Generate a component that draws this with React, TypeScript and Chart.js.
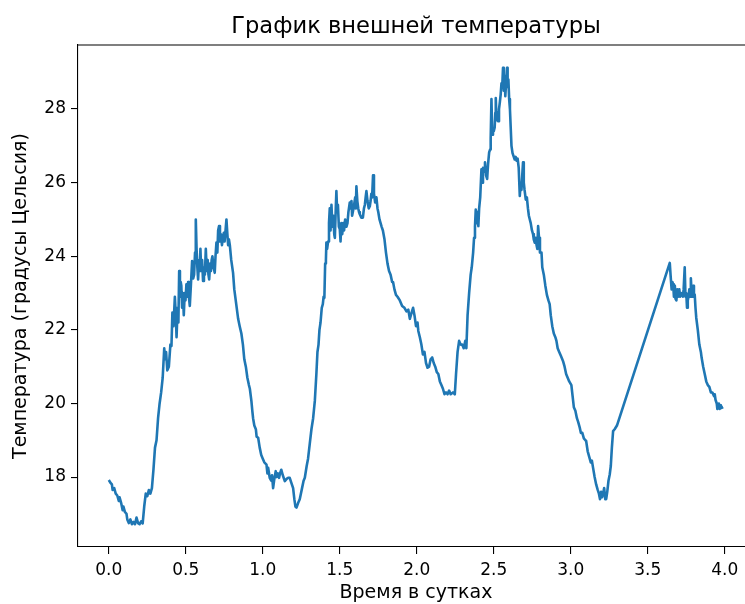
import { useEffect, useRef } from "react";
import { Chart, registerables } from "chart.js";

Chart.register(...registerables);

const chartTitle = "График внешней температуры";
const xAxisTitle = "Время в сутках";
const yAxisTitle = "Температура (градусы Цельсия)";

const xTickValues = [0, 0.5, 1, 1.5, 2, 2.5, 3, 3.5, 4];
const yTickValues = [18, 20, 22, 24, 26, 28];

const dayTimes = [
  0.000, 0.010, 0.020, 0.025, 0.035, 0.045, 0.055, 0.065, 0.070, 0.080,
  0.090, 0.095, 0.105, 0.115, 0.120, 0.130, 0.140, 0.150, 0.160, 0.170,
  0.180, 0.190, 0.200, 0.210, 0.220, 0.230, 0.240, 0.250, 0.260, 0.270,
  0.280, 0.290, 0.300, 0.310, 0.320, 0.330, 0.340, 0.350, 0.360, 0.365,
  0.372, 0.380, 0.390, 0.400, 0.407, 0.413, 0.420, 0.429, 0.435, 0.440,
  0.447, 0.452, 0.457, 0.462, 0.467, 0.471, 0.476, 0.481, 0.487, 0.493,
  0.498, 0.504, 0.510, 0.515, 0.520, 0.526, 0.533, 0.541, 0.548, 0.554,
  0.560, 0.565, 0.570, 0.575, 0.580, 0.586, 0.590, 0.595, 0.600, 0.606,
  0.612, 0.618, 0.624, 0.630, 0.636, 0.642, 0.647, 0.652, 0.658, 0.663,
  0.668, 0.673, 0.680, 0.688, 0.693, 0.699, 0.705, 0.710, 0.716, 0.722,
  0.728, 0.735, 0.740, 0.747, 0.752, 0.758, 0.764, 0.770, 0.775, 0.780,
  0.786, 0.795, 0.807, 0.815, 0.829, 0.840, 0.850, 0.861, 0.871, 0.880,
  0.890, 0.900, 0.910, 0.916, 0.926, 0.932, 0.937, 0.945, 0.955, 0.960,
  0.970, 0.980, 0.990, 1.000, 1.010, 1.024, 1.030, 1.035, 1.045, 1.055,
  1.060, 1.067, 1.075, 1.084, 1.090, 1.098, 1.106, 1.112, 1.120, 1.130,
  1.143, 1.155, 1.165, 1.175, 1.185, 1.197, 1.205, 1.212, 1.219, 1.230,
  1.240, 1.255, 1.265, 1.273, 1.285, 1.294, 1.305, 1.316, 1.327, 1.338,
  1.348, 1.355, 1.362, 1.368, 1.375, 1.383, 1.390, 1.395, 1.400, 1.405,
  1.410, 1.413, 1.418, 1.424, 1.430, 1.435, 1.440, 1.446, 1.452, 1.458,
  1.464, 1.468, 1.474, 1.478, 1.483, 1.488, 1.494, 1.500, 1.505, 1.510,
  1.516, 1.522, 1.528, 1.535, 1.543, 1.550, 1.556, 1.565, 1.572, 1.576,
  1.580, 1.586, 1.593, 1.600, 1.604, 1.608, 1.614, 1.620, 1.625, 1.630,
  1.640, 1.650, 1.657, 1.663, 1.668, 1.673, 1.680, 1.688, 1.695, 1.700,
  1.705, 1.710, 1.716, 1.722, 1.730, 1.738, 1.745, 1.750, 1.758, 1.765,
  1.772, 1.780, 1.790, 1.800, 1.810, 1.820, 1.830, 1.840, 1.846, 1.855,
  1.865, 1.875, 1.890, 1.905, 1.920, 1.933, 1.945, 1.955, 1.965, 1.976,
  1.985, 1.995, 2.005, 2.010, 2.020, 2.030, 2.040, 2.050, 2.060, 2.070,
  2.080, 2.090, 2.100, 2.110, 2.120, 2.130, 2.140, 2.150, 2.160, 2.170,
  2.180, 2.190, 2.200, 2.210, 2.220, 2.235, 2.247, 2.255, 2.265, 2.275,
  2.285, 2.295, 2.305, 2.315, 2.322, 2.330, 2.340, 2.350, 2.357, 2.366,
  2.372, 2.378, 2.383, 2.390, 2.395, 2.400, 2.405, 2.412, 2.420, 2.425,
  2.430, 2.437, 2.443, 2.450, 2.457, 2.463, 2.470, 2.476, 2.480, 2.485,
  2.490, 2.495, 2.500, 2.506, 2.510, 2.513, 2.518, 2.524, 2.528, 2.534,
  2.540, 2.545, 2.550, 2.555, 2.560, 2.565, 2.570, 2.575, 2.580, 2.586,
  2.590, 2.595, 2.600, 2.605, 2.610, 2.615, 2.622, 2.630, 2.636, 2.642,
  2.648, 2.655, 2.662, 2.669, 2.675, 2.680, 2.685, 2.690, 2.695, 2.700,
  2.708, 2.715, 2.722, 2.728, 2.734, 2.740, 2.748, 2.755, 2.760, 2.766,
  2.772, 2.778, 2.783, 2.788, 2.794, 2.800, 2.810, 2.815, 2.825, 2.835,
  2.845, 2.855, 2.863, 2.870, 2.880, 2.890, 2.900, 2.907, 2.915, 2.925,
  2.935, 2.945, 2.950, 2.960, 2.970, 2.980, 2.990, 3.004, 3.012, 3.020,
  3.030, 3.040, 3.048, 3.058, 3.066, 3.075, 3.085, 3.095, 3.100, 3.110,
  3.120, 3.130, 3.137, 3.145, 3.155, 3.165, 3.175, 3.183, 3.190, 3.197,
  3.203, 3.210, 3.217, 3.224, 3.230, 3.237, 3.245, 3.253, 3.260, 3.267,
  3.275, 3.285, 3.300, 3.643, 3.648, 3.655, 3.660, 3.665, 3.670, 3.676,
  3.680, 3.686, 3.692, 3.697, 3.705, 3.710, 3.716, 3.722, 3.728, 3.733,
  3.740, 3.745, 3.750, 3.755, 3.760, 3.765, 3.770, 3.775, 3.780, 3.785,
  3.790, 3.795, 3.800, 3.805, 3.810, 3.815, 3.825, 3.835, 3.845, 3.850,
  3.860, 3.870, 3.880, 3.890, 3.900, 3.910, 3.920, 3.930, 3.935, 3.940,
  3.948, 3.952, 3.957, 3.962, 3.968, 3.975, 3.980, 3.990,
];

const temperatures = [
  17.92, 17.85, 17.80, 17.65, 17.70, 17.55, 17.50, 17.35, 17.45, 17.30,
  17.10, 17.20, 17.05, 17.00, 16.85, 16.75, 16.85, 16.72, 16.78, 16.72,
  16.90, 16.75, 16.72, 16.80, 16.74, 17.20, 17.55, 17.48, 17.65, 17.55,
  17.70, 18.20, 18.80, 19.00, 19.60, 20.00, 20.30, 20.70, 21.50, 21.20,
  21.40, 20.90, 21.00, 21.60, 21.56, 22.47, 22.10, 22.90, 22.40, 21.80,
  22.60, 22.20, 23.60, 22.90, 23.30, 23.20, 22.60, 23.00, 22.40, 23.00,
  22.80, 23.24, 22.90, 23.30, 22.90, 22.65, 23.20, 23.87, 23.40, 23.50,
  24.10, 25.00, 24.20, 23.70, 23.37, 23.90, 23.60, 24.20, 23.60, 23.90,
  23.33, 23.70, 23.50, 24.20, 23.60, 23.90, 23.50, 23.37, 23.80, 23.60,
  23.90, 24.00, 23.70, 23.55, 24.00, 24.37, 24.10, 24.70, 24.82, 24.40,
  24.60, 24.30, 24.50, 24.64, 24.40, 24.70, 25.00, 24.60, 24.30, 24.46,
  24.30, 23.90, 23.55, 23.10, 22.65, 22.30, 22.10, 21.90, 21.60, 21.20,
  21.00, 20.70, 20.50, 20.40, 20.07, 19.80, 19.60, 19.40, 19.30, 19.10,
  19.07, 18.80, 18.60, 18.50, 18.40, 18.34, 18.10, 18.25, 17.98, 17.90,
  18.05, 17.70, 17.95, 18.16, 18.00, 18.10, 17.98, 18.10, 18.20, 18.05,
  17.89, 17.95, 17.98, 17.98, 17.85, 17.70, 17.40, 17.20, 17.17, 17.30,
  17.40, 17.70, 17.90, 17.98, 18.30, 18.50, 18.90, 19.30, 19.60, 20.07,
  20.80, 21.40, 21.60, 22.00, 22.20, 22.60, 22.70, 22.90, 22.87, 23.80,
  23.90, 24.37, 24.20, 24.40, 24.90, 25.30, 24.70, 25.40, 24.80, 25.10,
  24.60, 24.50, 25.30, 25.77, 25.20, 25.40, 24.80, 24.74, 24.40, 24.90,
  24.60, 24.90, 24.70, 25.00, 24.80, 24.90, 25.20, 25.46, 25.30, 25.50,
  25.10, 25.23, 25.40, 25.60, 25.30, 25.90, 25.50, 25.30, 25.20, 25.14,
  25.05, 25.05, 25.30, 25.40, 25.60, 25.77, 25.50, 25.30, 25.36, 25.50,
  25.70, 25.60, 26.20, 25.70, 25.46, 25.60, 25.30, 25.20, 25.00, 24.90,
  24.80, 24.70, 24.47, 24.10, 23.80, 23.60, 23.50, 23.30, 23.30, 23.10,
  22.95, 22.90, 22.80, 22.65, 22.60, 22.50, 22.55, 22.30, 22.45, 22.60,
  22.40, 22.10, 22.20, 21.97, 21.80, 21.60, 21.33, 21.40, 21.10, 20.97,
  21.00, 21.20, 21.25, 21.10, 21.00, 20.85, 20.80, 20.60, 20.50, 20.40,
  20.25, 20.30, 20.25, 20.35, 20.25, 20.30, 20.25, 20.80, 21.40, 21.70,
  21.60, 21.60, 21.50, 21.70, 21.50, 22.40, 23.00, 23.50, 23.70, 24.10,
  24.50, 24.80, 25.27, 24.90, 25.20, 24.82, 25.30, 25.60, 26.36, 26.00,
  26.40, 26.30, 26.55, 26.20, 26.10, 26.50, 26.82, 26.90, 27.20, 28.27,
  27.30, 27.45, 27.40, 27.50, 27.90, 28.30, 27.70, 27.90, 27.67, 28.00,
  28.20, 28.40, 28.70, 28.60, 29.12, 28.50, 28.90, 28.35, 28.70, 29.12,
  28.60, 28.80, 28.27, 28.00, 27.50, 27.00, 26.80, 26.70, 26.63, 26.70,
  26.60, 26.65, 26.40, 25.64, 26.00, 25.80, 26.20, 26.55, 26.00, 25.80,
  25.54, 25.60, 25.30, 25.10, 25.00, 24.90, 24.70, 24.60, 24.45, 24.37,
  24.50, 24.30, 24.20, 24.82, 24.50, 24.10, 24.10, 23.70, 23.50, 23.20,
  22.95, 22.80, 22.70, 22.40, 22.10, 21.90, 21.80, 21.70, 21.50, 21.40,
  21.30, 21.20, 21.15, 21.00, 20.80, 20.70, 20.60, 20.50, 20.20, 19.90,
  19.80, 19.60, 19.50, 19.35, 19.20, 19.20, 19.05, 19.00, 18.98, 18.70,
  18.55, 18.40, 18.45, 18.25, 18.00, 17.80, 17.65, 17.55, 17.40, 17.60,
  17.45, 17.55, 17.70, 17.40, 17.40, 17.60, 17.90, 18.07, 18.30, 18.80,
  19.25, 19.30, 19.40, 23.82, 23.50, 23.10, 23.30, 23.24, 22.90, 23.20,
  22.85, 22.80, 23.10, 22.90, 23.10, 22.90, 23.00, 23.00, 22.90, 23.10,
  23.70, 22.90, 23.00, 22.60, 22.80, 22.90, 23.10, 22.90, 23.40, 23.00,
  22.90, 23.20, 22.90, 22.96, 22.60, 22.33, 22.00, 21.60, 21.40, 21.24,
  21.00, 20.80, 20.60, 20.50, 20.45, 20.30, 20.30, 20.20, 20.25, 20.10,
  20.00, 19.85, 19.88, 20.00, 19.85, 19.95, 19.88, 19.90,
];

const FONT = "'DejaVu Sans', 'Liberation Sans', sans-serif";

const framePlugin = {
  id: "frame",
  afterDraw(chart: any) {
    const { ctx, chartArea: a } = chart;
    ctx.save();
    ctx.strokeStyle = "#000";
    ctx.lineWidth = 1.1;
    ctx.beginPath();
    ctx.moveTo(a.left, a.top);
    ctx.lineTo(a.right, a.top);
    ctx.stroke();
    ctx.fillStyle = "#000";
    ctx.font = `22.6px ${FONT}`;
    ctx.textAlign = "center";
    ctx.textBaseline = "alphabetic";
    ctx.fillText(chartTitle, (a.left + a.right) / 2, 33);
    ctx.restore();
  },
};

export default function App() {
  const canvasRef = useRef<HTMLCanvasElement | null>(null);

  useEffect(() => {
    document.body.style.margin = "0";
    document.body.style.overflow = "hidden";
    if (!canvasRef.current) return;
    const points = dayTimes.map((t, i) => ({ x: t, y: temperatures[i] }));
    const axisGrid = {
      display: true,
      drawOnChartArea: false,
      drawTicks: true,
      tickLength: 7,
      color: "#000",
      lineWidth: 1.1,
    };
    const chart = new Chart(canvasRef.current, {
      type: "line",
      data: {
        datasets: [
          {
            data: points,
            borderColor: "#1f77b4",
            backgroundColor: "#1f77b4",
            borderWidth: 2.6,
            borderJoinStyle: "round",
            pointRadius: 0,
            tension: 0,
            fill: false,
          },
        ],
      },
      options: {
        animation: false,
        responsive: false,
        maintainAspectRatio: false,
        events: [],
        layout: { padding: { left: 0, top: 45, right: 2, bottom: 0 } },
        plugins: {
          legend: { display: false },
          tooltip: { enabled: false },
          title: { display: false },
        },
        scales: {
          x: {
            type: "linear",
            min: -0.2,
            max: 4.19,
            afterBuildTicks: (scale: any) => {
              scale.ticks = xTickValues.map((v) => ({ value: v }));
            },
            afterFit: (scale: any) => {
              scale.height = 57;
              scale.paddingLeft = 0;
              scale.paddingRight = 0;
            },
            ticks: {
              color: "#000",
              font: { family: FONT, size: 17 },
              padding: 6,
              maxRotation: 0,
              autoSkip: false,
              callback: (v: any) => Number(v).toFixed(1),
            },
            grid: axisGrid,
            border: { display: true, color: "#000", width: 1.1 },
            title: {
              display: true,
              text: xAxisTitle,
              color: "#000",
              font: { family: FONT, size: 19 },
              padding: { top: 0, bottom: 0 },
            },
          },
          y: {
            type: "linear",
            min: 16.1,
            max: 29.74,
            afterBuildTicks: (scale: any) => {
              scale.ticks = yTickValues.map((v) => ({ value: v }));
            },
            afterFit: (scale: any) => {
              scale.width = 78;
              scale.paddingTop = 0;
              scale.paddingBottom = 0;
            },
            ticks: {
              color: "#000",
              font: { family: FONT, size: 17 },
              padding: 5,
              autoSkip: false,
              callback: (v: any) => String(v),
            },
            grid: axisGrid,
            border: { display: true, color: "#000", width: 1.1 },
            title: {
              display: true,
              text: yAxisTitle,
              color: "#000",
              font: { family: FONT, size: 19 },
              padding: { top: 9.5, bottom: 0 },
            },
          },
        },
      },
      plugins: [framePlugin],
    });
    return () => chart.destroy();
  }, []);

  return (
    <div
      style={{
        position: "absolute",
        left: 0,
        top: 0,
        width: 745,
        height: 604,
        overflow: "hidden",
        background: "#fff",
      }}
    >
      <canvas
        ref={canvasRef}
        width={756}
        height={604}
        style={{ display: "block", width: 756, height: 604 }}
      />
    </div>
  );
}
